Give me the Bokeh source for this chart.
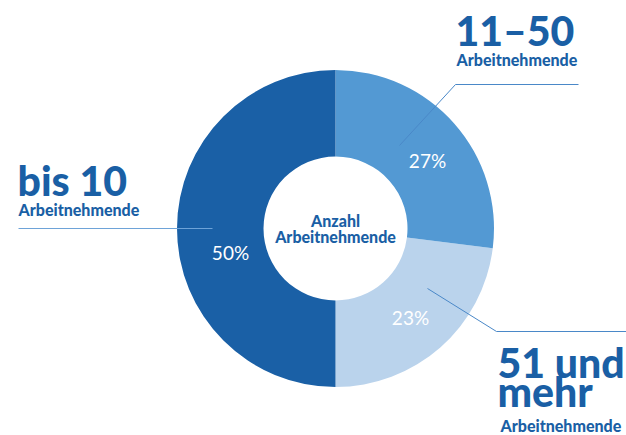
import numpy as np
from bokeh.plotting import figure
from bokeh.models import Range1d, ColumnDataSource
from bokeh.core.properties import value
from bokeh.embed import file_html
from bokeh.resources import INLINE

# data
categories = ["bis 10", "11–50", "51 und mehr"]
shares = [50, 27, 23]
slice_colors = ["#1a60a6", "#5399d3", "#bad3ec"]
pct_labels = ["50%", "27%", "23%"]
center_title = ["Anzahl", "Arbeitnehmende"]
sub_label = "Arbeitnehmende"

W, H = 626, 435
def px(X):
    return X
def py(Y):
    return H - Y

p = figure(width=W, height=H, output_backend="svg", toolbar_location=None,
           x_range=Range1d(0, W), y_range=Range1d(0, H), min_border=0)
p.axis.visible = False
p.grid.visible = False
p.outline_line_color = None
p.background_fill_color = "white"

cx, cy = px(335), py(228)
r_out, r_in = 158.5, 72

# draw order: counterclockwise from bottom: 23, 27, 50
order = [2, 1, 0]
vals = np.array([shares[i] for i in order], dtype=float)
ends = -np.pi / 2 + np.cumsum(vals) / vals.sum() * 2 * np.pi
starts = np.concatenate([[-np.pi / 2], ends[:-1]])
src = ColumnDataSource(dict(start=starts, end=ends,
                            color=[slice_colors[i] for i in order]))
p.annular_wedge(x=cx, y=cy, inner_radius=r_in, outer_radius=r_out,
                start_angle="start", end_angle="end", color="color",
                line_color=None, source=src)

# percentage labels
label_pos = {0: (px(230), py(252)), 1: (px(427), py(160)), 2: (px(410), py(317))}
lx = [label_pos[i][0] for i in order]
ly = [label_pos[i][1] for i in order]
p.text(x=lx, y=ly, text=[pct_labels[i] for i in order], text_color="white",
       text_font=value("Lato"), text_font_size="19px", text_align="center",
       text_baseline="middle")

FONT = "Lato Black"
BIG_OFF = 13
SMALL_OFF = 5
# center title
p.text(x=[cx, cx], y=[py(225 - SMALL_OFF), py(241 - SMALL_OFF)], text=center_title,
       text_color="#1a5fa5", text_font=value(FONT), text_font_style="bold",
       text_font_size="16px", text_align="center", text_baseline="alphabetic")

line_col = "#4a88c8"
# leader lines
p.line(x=[px(18), px(212)], y=[py(228), py(228)], line_color="#6ea3d8", line_width=1)
p.line(x=[px(399), px(455), px(578)], y=[py(145), py(84), py(84)], line_color=line_col, line_width=1)
p.line(x=[px(427), px(496), px(626)], y=[py(288), py(331), py(331)], line_color=line_col, line_width=1)

big = dict(text_color="#1a5fa5", text_font=value(FONT), text_font_style="bold",
           text_font_size="41px", text_baseline="alphabetic", text_align="left")
small = dict(text_color="#1a5fa5", text_font=value(FONT), text_font_style="bold",
             text_font_size="16px", text_baseline="alphabetic", text_align="left")

p.text(x=[px(17)], y=[py(193 - BIG_OFF)], text=[categories[0]], **big)
p.text(x=[px(18)], y=[py(214 - SMALL_OFF)], text=[sub_label], **small)

p.text(x=[px(455)], y=[py(43 - BIG_OFF)], text=[categories[1]], **big)
p.text(x=[px(456)], y=[py(64 - SMALL_OFF)], text=[sub_label], **small)

p.text(x=[px(497), px(497)], y=[py(375 - BIG_OFF), py(404 - BIG_OFF)],
       text=["51 und", "mehr"], **big)
p.text(x=[px(500)], y=[py(430 - SMALL_OFF)], text=[sub_label], **small)

open("out.html", "w").write(file_html(p, INLINE))
